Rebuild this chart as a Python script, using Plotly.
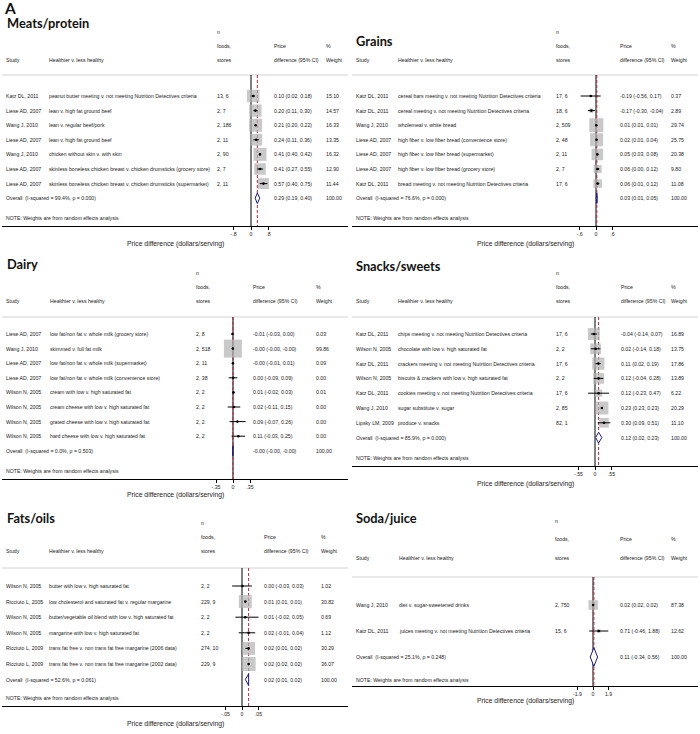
import math
import plotly.graph_objects as go

W, H = 700, 734

# ===================== DATA =====================
meat_title = "Meats/protein"
meat_study = ["Katz DL, 2011", "Liese AD, 2007", "Wang J, 2010", "Liese AD, 2007",
              "Wang J, 2010", "Liese AD, 2007", "Liese AD, 2007"]
meat_desc = ["peanut butter meeting v. not meeting Nutrition Detectives criteria",
             "lean v. high fat ground beef", "lean v. regular beef/pork",
             "lean v. high fat ground beef", "chicken without skin v. with skin",
             "skinless boneless chicken breast v. chicken drumsticks (grocery store)",
             "skinless boneless chicken breast v. chicken drumsticks (supermarket)"]
meat_n = ["13, 6", "2, 7", "2, 186", "2, 11", "2, 90", "2, 7", "2, 11"]
meat_est = [0.10, 0.20, 0.21, 0.24, 0.41, 0.41, 0.57]
meat_lo = [0.02, 0.11, 0.20, 0.11, 0.40, 0.27, 0.40]
meat_hi = [0.18, 0.30, 0.22, 0.36, 0.42, 0.55, 0.75]
meat_wt = [15.10, 14.57, 16.33, 13.35, 16.32, 12.90, 11.44]
meat_overall = [0.29, 0.19, 0.40]
meat_het = "I-squared = 99.4%, p = 0.000"
meat_ticks = [-0.8, 0, 0.8]
meat_ticktext = ["-.8", "0", ".8"]

grain_title = "Grains"
grain_study = ["Katz DL, 2011", "Katz DL, 2011", "Wang J, 2010", "Liese AD, 2007",
               "Liese AD, 2007", "Liese AD, 2007", "Katz DL, 2011"]
grain_desc = ["cereal bars meeting v. not meeting Nutrition Detectives criteria",
              "cereal meeting v. not meeting Nutrition Detectives criteria",
              "wholemeal v. white bread",
              "high fiber v. low fiber bread (convenience store)",
              "high fiber v. low fiber bread (supermarket)",
              "high fiber v. low fiber bread (grocery store)",
              "bread meeting v. not meeting Nutrition Detectives criteria"]
grain_n = ["17, 6", "18, 6", "2, 509", "2, 48", "2, 11", "2, 7", "17, 6"]
grain_est = [-0.19, -0.17, 0.01, 0.02, 0.05, 0.06, 0.06]
grain_lo = [-0.56, -0.30, 0.01, 0.01, 0.03, 0.001, 0.01]
grain_hi = [0.17, -0.04, 0.01, 0.04, 0.08, 0.12, 0.12]
grain_wt = [0.37, 2.89, 29.74, 25.75, 20.38, 9.80, 11.08]
grain_overall = [0.03, 0.01, 0.05]
grain_het = "I-squared = 76.6%, p = 0.000"
grain_ticks = [-0.6, 0, 0.6]
grain_ticktext = ["-.6", "0", ".6"]

dairy_title = "Dairy"
dairy_study = ["Liese AD, 2007", "Wang J, 2010", "Liese AD, 2007", "Liese AD, 2007",
               "Wilson N, 2005", "Wilson N, 2005", "Wilson N, 2005", "Wilson N, 2005"]
dairy_desc = ["low fat/non fat v. whole milk (grocery store)", "skimmed v. full fat milk",
              "low fat/non fat v. whole milk (supermarket)",
              "low fat/non fat v. whole milk (convenience store)",
              "cream with low v. high saturated fat",
              "cream cheese with low v. high saturated fat",
              "grated cheese with low v. high saturated fat",
              "hard cheese with low v. high saturated fat"]
dairy_n = ["2, 8", "2, 518", "2, 11", "2, 38", "2, 2", "2, 2", "2, 2", "2, 2"]
dairy_est = [-0.01, -0.002, -0.002, 0.001, 0.01, 0.02, 0.09, 0.11]
dairy_lo = [-0.03, -0.003, -0.01, -0.09, -0.02, -0.11, -0.07, -0.03]
dairy_hi = [0.001, -0.001, 0.01, 0.09, 0.03, 0.15, 0.26, 0.25]
dairy_wt = [0.03, 99.86, 0.09, 0.00, 0.01, 0.00, 0.00, 0.00]
dairy_overall = [-0.002, -0.003, -0.001]
dairy_het = "I-squared = 0.0%, p = 0.503"
dairy_ticks = [-0.35, 0, 0.35]
dairy_ticktext = ["-.35", "0", ".35"]

snack_title = "Snacks/sweets"
snack_study = ["Katz DL, 2011", "Wilson N, 2005", "Katz DL, 2011", "Wilson N, 2005",
               "Katz DL, 2011", "Wang J, 2010", "Lipsky LM, 2009"]
snack_desc = ["chips meeting v. not meeting Nutrition Detectives criteria",
              "chocolate with low v. high saturated fat",
              "crackers meeting v. not meeting Nutrition Detectives criteria",
              "biscuits & crackers with low v. high saturated fat",
              "cookies meeting v. not meeting Nutrition Detectives criteria",
              "sugar substitute v. sugar", "produce v. snacks"]
snack_n = ["17, 6", "2, 2", "17, 6", "2, 2", "17, 6", "2, 85", "82, 1"]
snack_est = [-0.04, 0.02, 0.11, 0.12, 0.12, 0.23, 0.30]
snack_lo = [-0.14, -0.14, 0.02, -0.04, -0.23, 0.23, 0.09]
snack_hi = [0.07, 0.18, 0.19, 0.28, 0.47, 0.23, 0.51]
snack_wt = [16.89, 13.75, 17.86, 13.89, 6.22, 20.29, 11.10]
snack_overall = [0.12, 0.02, 0.23]
snack_het = "I-squared = 85.9%, p = 0.000"
snack_ticks = [-0.55, 0, 0.55]
snack_ticktext = ["-.55", "0", ".55"]

fat_title = "Fats/oils"
fat_study = ["Wilson N, 2005", "Ricciuto L, 2005", "Wilson N, 2005", "Wilson N, 2005",
             "Ricciuto L, 2009", "Ricciuto L, 2009"]
fat_desc = ["butter with low v. high saturated fat",
            "low cholesterol and saturated fat v. regular margarine",
            "butter/vegetable oil blend with low v. high saturated fat",
            "margarine with low v. high saturated fat",
            "trans fat free v. non trans fat free margarine (2006 data)",
            "trans fat free v. non trans fat free margarine (2002 data)"]
fat_n = ["2, 2", "229, 9", "2, 2", "2, 2", "274, 10", "229, 9"]
fat_est = [0.001, 0.01, 0.01, 0.02, 0.02, 0.02]
fat_lo = [-0.03, 0.01, -0.02, -0.01, 0.01, 0.02]
fat_hi = [0.03, 0.01, 0.05, 0.04, 0.02, 0.02]
fat_wt = [1.02, 30.82, 0.69, 1.12, 30.29, 36.07]
fat_overall = [0.02, 0.01, 0.02]
fat_het = "I-squared = 52.6%, p = 0.061"
fat_ticks = [-0.05, 0, 0.05]
fat_ticktext = ["-.05", "0", ".05"]

soda_title = "Soda/juice"
soda_study = ["Wang J, 2010", "Katz DL, 2011"]
soda_desc = ["diet v. sugar-sweetened drinks",
             "juices meeting v. not meeting Nutrition Detectives criteria"]
soda_n = ["2, 750", "15, 6"]
soda_est = [0.02, 0.71]
soda_lo = [0.02, -0.46]
soda_hi = [0.02, 1.88]
soda_wt = [87.38, 12.62]
soda_overall = [0.11, -0.34, 0.56]
soda_het = "I-squared = 25.1%, p = 0.248"
soda_ticks = [-1.9, 0, 1.9]
soda_ticktext = ["-1.9", "0", "1.9"]

overall_wt = 100.00
axis_title = "Price difference (dollars/serving)"
note_text = "NOTE: Weights are from random effects analysis"
hdr_study, hdr_desc = "Study", "Healthier v. less healthy"
hdr_n = ["n", "foods,", "stores"]
hdr_est = ["Price", "difference (95% CI)"]
hdr_wt = ["%", "Weight"]

panels = [
    dict(title=meat_title, study=meat_study, desc=meat_desc, n=meat_n, est=meat_est,
         lo=meat_lo, hi=meat_hi, wt=meat_wt, overall=meat_overall, het=meat_het,
         ticks=meat_ticks, ticktext=meat_ticktext),
    dict(title=grain_title, study=grain_study, desc=grain_desc, n=grain_n, est=grain_est,
         lo=grain_lo, hi=grain_hi, wt=grain_wt, overall=grain_overall, het=grain_het,
         ticks=grain_ticks, ticktext=grain_ticktext),
    dict(title=dairy_title, study=dairy_study, desc=dairy_desc, n=dairy_n, est=dairy_est,
         lo=dairy_lo, hi=dairy_hi, wt=dairy_wt, overall=dairy_overall, het=dairy_het,
         ticks=dairy_ticks, ticktext=dairy_ticktext),
    dict(title=snack_title, study=snack_study, desc=snack_desc, n=snack_n, est=snack_est,
         lo=snack_lo, hi=snack_hi, wt=snack_wt, overall=snack_overall, het=snack_het,
         ticks=snack_ticks, ticktext=snack_ticktext),
    dict(title=fat_title, study=fat_study, desc=fat_desc, n=fat_n, est=fat_est,
         lo=fat_lo, hi=fat_hi, wt=fat_wt, overall=fat_overall, het=fat_het,
         ticks=fat_ticks, ticktext=fat_ticktext),
    dict(title=soda_title, study=soda_study, desc=soda_desc, n=soda_n, est=soda_est,
         lo=soda_lo, hi=soda_hi, wt=soda_wt, overall=soda_overall, het=soda_het,
         ticks=soda_ticks, ticktext=soda_ticktext),
]

# ===================== GEOMETRY (pixels) =====================
geoms = [
    dict(x0=2, x1=348, tx=6, ty=23, yn=32, yf=46, ys=60, hline=75, first=96, dy=14.6,
         note=218, axis=226, atitle=244, cs=5, cd=48, cn=216, ce=273, cw=325,
         zero=251, tickpx=17.5, box=13),
    dict(x0=352, x1=698, tx=355, ty=41, yn=32, yf=46, ys=60, hline=75, first=96, dy=14.6,
         note=218, axis=226, atitle=244, cs=355, cd=397, cn=555, ce=619, cw=670,
         zero=596, tickpx=16.5, box=14),
    dict(x0=2, x1=348, tx=6, ty=264, yn=273, yf=287, ys=301, hline=317, first=334, dy=14.6,
         note=471, axis=479, atitle=495, cs=5, cd=49, cn=195, ce=252, cw=315,
         zero=233, tickpx=17, box=18),
    dict(x0=352, x1=698, tx=355, ty=266, yn=273, yf=287, ys=301, hline=317, first=334, dy=14.8,
         note=458, axis=466, atitle=484, cs=355, cd=397, cn=555, ce=620, cw=670,
         zero=595, tickpx=16.5, box=13),
    dict(x0=2, x1=348, tx=6, ty=518, yn=523, yf=537, ys=551, hline=568, first=586, dy=15.6,
         note=698, axis=706, atitle=724, cs=5, cd=48, cn=200, ce=263, cw=320,
         zero=242, tickpx=16.5, box=14),
    dict(x0=352, x1=698, tx=355, ty=518, yn=521, yf=539, ys=558, hline=577, first=605, dy=26,
         note=680, axis=686, atitle=701, cs=355, cd=398, cn=554, ce=619, cw=670,
         zero=593, tickpx=15.5, box=9.5),
]

FONT = "Liberation Sans, Arial, sans-serif"
TFONT = "Lato, Open Sans, sans-serif"
TXT = "#222222"
FS = 5.2
BOX_COLOR = "#b2b2b2"
DIAMOND = "#1c1c78"
OVL = "#a8323c"


def f2(v):
    return f"{v:.2f}"


def pxx(p):
    return p / W


def pxy(p):
    return 1 - p / H


fig = go.Figure()
ann = []
shp = []
lay = {}


def text(x, y, s, yref="paper", size=FS, family=FONT, color=TXT, xanchor="left"):
    ann.append(dict(x=x, y=y, xref="paper", yref=yref, text=s, showarrow=False,
                    xanchor=xanchor, yanchor="middle", borderpad=0,
                    font=dict(size=size, family=family, color=color)))


for k, (d, c) in enumerate(zip(panels, geoms), start=1):
    sfx = "" if k == 1 else str(k)
    xn, yn = "x" + sfx, "y" + sfx
    n = len(d["est"])
    t = d["ticks"][-1]
    ppu = c["tickpx"] / t
    xr = [(c["x0"] - c["zero"]) / ppu, (c["x1"] - c["zero"]) / ppu]
    yb = (c["axis"] - c["first"]) / c["dy"]
    yt = (c["hline"] - c["first"]) / c["dy"]
    lay["xaxis" + sfx] = dict(
        domain=[pxx(c["x0"]), pxx(c["x1"])], range=xr, anchor=yn,
        showgrid=False, zeroline=False, showline=True, linecolor="black", linewidth=1,
        ticks="outside", ticklen=3, tickwidth=1, tickcolor="black",
        tickvals=d["ticks"], ticktext=d["ticktext"],
        tickfont=dict(size=FS, family=FONT, color=TXT), fixedrange=True)
    lay["yaxis" + sfx] = dict(domain=[pxy(c["axis"]), pxy(c["hline"])], range=[yb, yt],
                              anchor=xn, visible=False, fixedrange=True)

    rows = list(range(n))
    oe, ol, oh = d["overall"]

    # reference lines
    shp.append(dict(type="line", xref="paper", yref="paper", x0=pxx(c["x0"]), x1=pxx(c["x1"]),
                    y0=pxy(c["hline"]), y1=pxy(c["hline"]),
                    line=dict(color="#d2d2d2", width=1), layer="below"))
    shp.append(dict(type="line", xref=xn, yref=yn, x0=0, x1=0, y0=yt, y1=yb,
                    line=dict(color="black", width=1), layer="below"))
    shp.append(dict(type="line", xref=xn, yref=yn, x0=oe, x1=oe, y0=yt, y1=yb,
                    line=dict(color=OVL, width=1, dash="3px,2px"), layer="below"))

    # weight boxes
    wmax = max(d["wt"])
    sizes = [c["box"] * math.sqrt(w / wmax) for w in d["wt"]]
    fig.add_trace(go.Scatter(x=d["est"], y=rows, mode="markers", xaxis=xn, yaxis=yn,
                             marker=dict(symbol="square", size=sizes, color=BOX_COLOR,
                                         line=dict(width=0)),
                             hoverinfo="skip", showlegend=False))
    # CI lines and point estimates
    fig.add_trace(go.Scatter(x=d["est"], y=rows, mode="markers", xaxis=xn, yaxis=yn,
                             marker=dict(symbol="circle", size=2.6, color="black"),
                             error_x=dict(type="data", symmetric=False,
                                          array=[h - e for h, e in zip(d["hi"], d["est"])],
                                          arrayminus=[e - l for e, l in zip(d["est"], d["lo"])],
                                          thickness=1, width=0, color="black"),
                             hoverinfo="skip", showlegend=False))
    # overall diamond
    hh = 0.36
    fig.add_trace(go.Scatter(x=[ol, oe, oh, oe, ol], y=[n, n - hh, n, n + hh, n],
                             mode="lines", fill="toself", fillcolor="white",
                             line=dict(color=DIAMOND, width=1), xaxis=xn, yaxis=yn,
                             hoverinfo="skip", showlegend=False))

    # title
    text(pxx(c["tx"]), pxy(c["ty"]), "<b>" + d["title"] + "</b>", size=12.8, family=TFONT,
         color="#111111")
    # headers
    text(pxx(c["cn"]), pxy(c["yn"]), hdr_n[0])
    text(pxx(c["cn"]), pxy(c["yf"]), hdr_n[1])
    text(pxx(c["ce"]), pxy(c["yf"]), hdr_est[0])
    text(pxx(c["cw"]), pxy(c["yf"]), hdr_wt[0])
    text(pxx(c["cs"]), pxy(c["ys"]), hdr_study)
    text(pxx(c["cd"]), pxy(c["ys"]), hdr_desc)
    text(pxx(c["cn"]), pxy(c["ys"]), hdr_n[2])
    text(pxx(c["ce"]), pxy(c["ys"]), hdr_est[1])
    text(pxx(c["cw"]), pxy(c["ys"]), hdr_wt[1])
    # study rows
    for i in rows:
        text(pxx(c["cs"]), i, d["study"][i], yref=yn)
        text(pxx(c["cd"]), i, d["desc"][i], yref=yn)
        text(pxx(c["cn"]), i, d["n"][i], yref=yn)
        text(pxx(c["ce"]), i, f"{f2(d['est'][i])} ({f2(d['lo'][i])}, {f2(d['hi'][i])})", yref=yn)
        text(pxx(c["cw"]), i, f2(d["wt"][i]), yref=yn)
    # overall row
    text(pxx(c["cs"]), n, "Overall\u00a0 (" + d["het"] + ")", yref=yn)
    text(pxx(c["ce"]), n, f"{f2(oe)} ({f2(ol)}, {f2(oh)})", yref=yn)
    text(pxx(c["cw"]), n, f2(overall_wt), yref=yn)
    # note and axis title
    text(pxx(c["cs"]), pxy(c["note"]), note_text)
    text(pxx((c["x0"] + c["x1"]) / 2), pxy(c["atitle"]), axis_title, size=6.8,
         xanchor="center")

# panel letter
text(pxx(3), pxy(8), "<b>A</b>", size=15.5, family=TFONT, color="#111111")

fig.update_layout(width=W, height=H, margin=dict(l=0, r=0, t=0, b=0),
                  paper_bgcolor="white", plot_bgcolor="white", showlegend=False,
                  annotations=ann, shapes=shp, **lay)

fig.write_html("out.html", config={"displayModeBar": False},
               post_script="document.body.style.margin='0';"
                           "document.body.style.overflow='hidden';")
